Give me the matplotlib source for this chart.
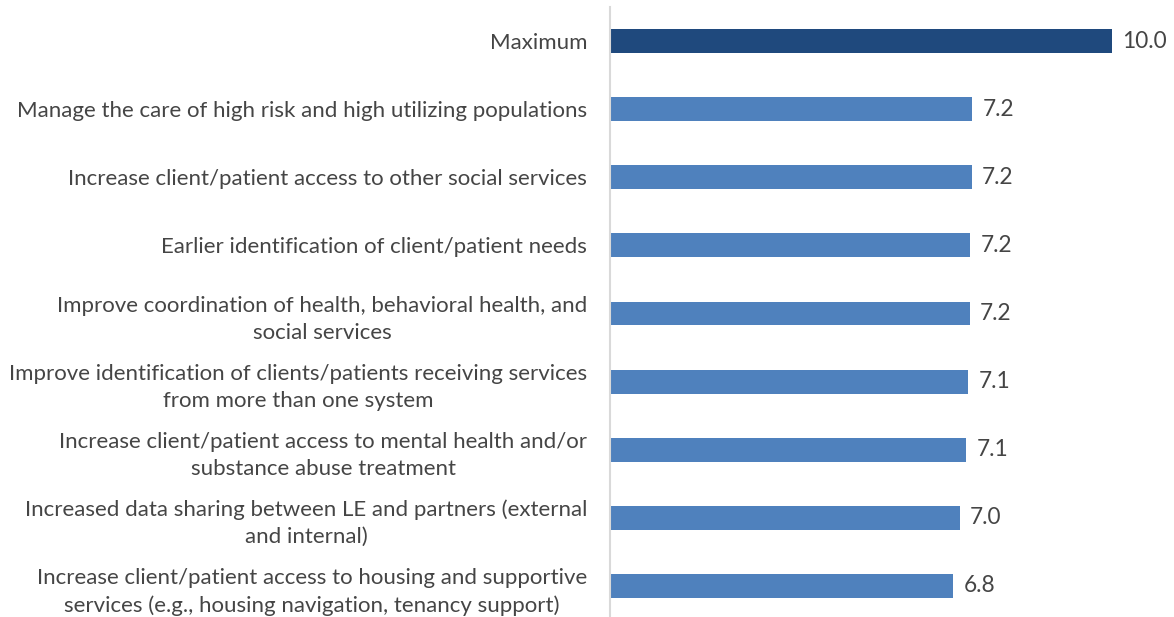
import matplotlib
matplotlib.use("Agg")
import matplotlib.pyplot as plt

plt.rcParams['font.family'] = ['Lato', 'DejaVu Sans']

# Categories, top to bottom
labels = [
    "Maximum",
    "Manage the care of high risk and high utilizing populations",
    "Increase client/patient access to other social services",
    "Earlier identification of client/patient needs",
    "Improve coordination of health, behavioral health, and\nsocial services",
    "Improve identification of clients/patients receiving services\nfrom more than one system",
    "Increase client/patient access to mental health and/or\nsubstance abuse treatment",
    "Increased data sharing between LE and partners (external\nand internal)",
    "Increase client/patient access to housing and supportive\nservices (e.g., housing navigation, tenancy support)",
]
values = [10.0, 7.22, 7.21, 7.18, 7.17, 7.14, 7.10, 6.97, 6.84]
colors = ["#1F497D"] + ["#4F81BD"] * 8
text_color = "#454545"

W, H = 1174, 617
fig = plt.figure(figsize=(W / 100, H / 100), dpi=100)
ax = fig.add_axes([610 / W, -3 / H, (W - 610) / W, 613 / H])

ypos = list(range(len(labels)))
ax.barh(ypos, values, height=0.35, color=colors)
ax.set_ylim(len(labels) - 0.5, -0.5)
ax.set_xlim(0, 11.24)

for y, v in zip(ypos, values):
    ax.annotate(f"{v:.1f}", (v, y), xytext=(7.5, 0), textcoords="offset points",
                ha="left", va="center", fontsize=16.3, color=text_color)

ax.set_yticks(ypos)
ax.set_yticklabels(labels, fontsize=16, color=text_color, linespacing=1.45,
                   ha="right", multialignment="center")
ax.tick_params(axis="y", length=0, pad=16.5)
ax.set_xticks([])

for s in ["top", "right", "bottom"]:
    ax.spines[s].set_visible(False)
ax.spines["left"].set_color("#D9D9D9")
ax.spines["left"].set_linewidth(1.5)

fig.savefig("out.png", dpi=100)
